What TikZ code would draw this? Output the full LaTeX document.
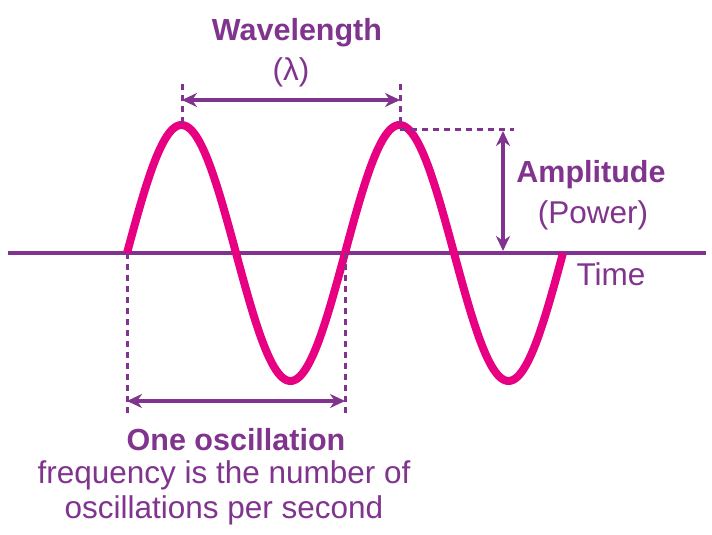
\documentclass[tikz,border=0pt]{standalone}
\usepackage{fontspec}
\setmainfont{Liberation Sans}
\tikzset{>=stealth}
\usetikzlibrary{arrows.meta}
\colorlet{background}{white}
\definecolor{penColor}{RGB}{128,52,142}
\definecolor{waveColor}{RGB}{232,0,130}
\tikzset{
  dimline/.style={penColor, line width=3.2pt, {Stealth[length=15pt,width=14pt]}-{Stealth[length=15pt,width=14pt]}},
  guide/.style={penColor, line width=3pt, dash pattern=on 6pt off 5pt},
  lbl/.style={penColor, inner sep=0pt, font=\fontsize{31.5}{35}\selectfont},
  lblb/.style={lbl, font=\fontsize{30.5}{35}\selectfont\bfseries},
}
\begin{document}
\begin{tikzpicture}[x=1pt,y=-1pt]
				\useasboundingbox[fill=background] (0,0) rectangle (712,535);
				% axis
				\coordinate (axL) at (8,253);
				\coordinate (axR) at (706,253);
				\draw[penColor, line width=3.6pt] (axL) -- (axR);
				% the wave
				\draw[waveColor, line width=8pt] plot[domain=127:563, samples=220, smooth] (\x, {253-128*sin(1.65138*(\x-127))});
				\coordinate (start) at (127,253);
				\coordinate (zero2) at (345,253);
				\coordinate (peak1) at (182,126);
				\coordinate (peak2) at (400,126);
				% wavelength
				\coordinate (wlTop1) at (182,84);
				\coordinate (wlTop2) at (400,84);
				\draw[guide] (wlTop1) -- (peak1);
				\draw[guide] (wlTop2) -- (peak2);
				\coordinate (wlA) at (182,100);
				\coordinate (wlB) at (400,100);
				\draw[dimline] (wlA) -- (wlB);
				\node[lblb] (wl) at (297,33) {Wavelength};
				\node[lbl] (lam) at (291,72) {(λ)};
				% amplitude
				\coordinate (ampStart) at (400,129);
				\coordinate (ampEnd) at (514,129);
				\draw[guide] (ampStart) -- (ampEnd);
				\coordinate (ampA) at (503,131);
				\coordinate (ampB) at (503,251);
				\draw[dimline] (ampA) -- (ampB);
				\node[lblb] (amp) at (591,175) {Amplitude};
				\node[lbl] (pow) at (593,215) {(Power)};
				\node[lbl] (time) at (611,274) {Time};
				% one oscillation
				\coordinate (osBot1) at (127,414);
				\coordinate (osBot2) at (345,414);
				\draw[guide] (start) -- (osBot1);
				\draw[guide] (zero2) -- (osBot2);
				\coordinate (osA) at (127,401);
				\coordinate (osB) at (345,401);
				\draw[dimline] (osA) -- (osB);
				\node[lblb] (osc) at (236,440) {One oscillation};
				\node[lbl, align=center] (freq) at (224,493) {frequency is the number of\\oscillations per second};
\end{tikzpicture}
\end{document}
